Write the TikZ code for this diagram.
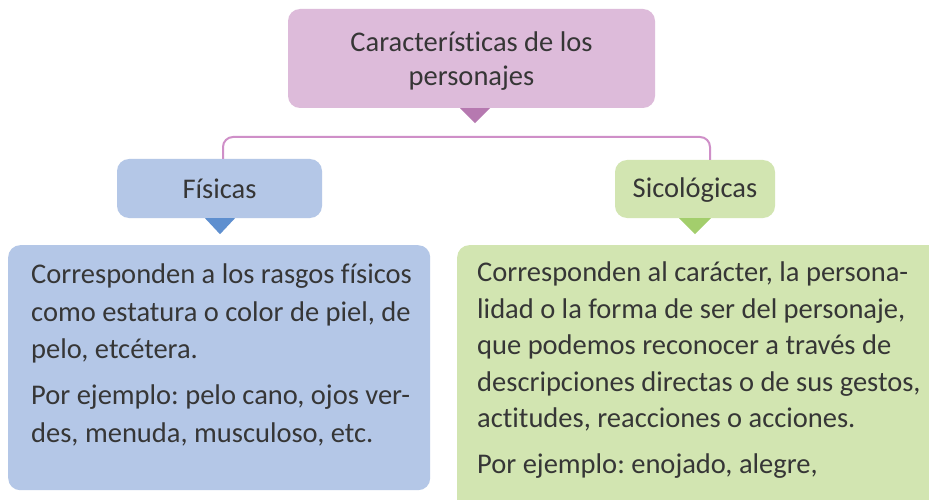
\documentclass[tikz,border=0pt]{standalone}
\usepackage{fontspec}
\setmainfont[Ligatures=NoCommon]{Carlito}
\frenchspacing
\definecolor{txt}{HTML}{363636}
\definecolor{pinkbox}{HTML}{DDBBDA}
\definecolor{pinktri}{HTML}{B679B0}
\definecolor{pinkline}{HTML}{CF8FC8}
\definecolor{bluebox}{HTML}{B4C7E7}
\definecolor{bluetri}{HTML}{5E8FCF}
\definecolor{greenbox}{HTML}{D2E5B1}
\definecolor{greentri}{HTML}{A3CE6C}
\tikzset{
  box/.style={rounded corners=12pt, inner sep=0pt, draw=none},
  conn/.style={draw=pinkline, line width=2pt, rounded corners=10pt},
  maintext/.style={font=\fontsize{28.5}{34}\selectfont, text=txt, align=center, inner sep=0pt},
  bodytext/.style={font=\fontsize{28.5}{36.5}\selectfont, text=txt, align=left, inner sep=0pt, anchor=north west},
}
\begin{document}
\begin{tikzpicture}[x=1pt,y=-1pt]
\useasboundingbox (0,0) rectangle (929,500);
\clip (0,0) rectangle (929,500);
\fill[white] (0,0) rectangle (929,500);
% boxes
\node[box, fill=pinkbox, minimum width=367pt, minimum height=99pt] (top) at (471.5,58.5) {};
\node[box, fill=bluebox, minimum width=205pt, minimum height=59pt] (fis) at (219.5,188.5) {};
\node[box, fill=greenbox, minimum width=160pt, minimum height=58pt] (sic) at (695,189) {};
\node[box, fill=bluebox, minimum width=422pt, minimum height=245pt, anchor=north west] (lbox) at (8,245) {};
\node[box, fill=greenbox, minimum width=490pt, minimum height=275pt, anchor=north west] (rbox) at (457,245) {};
% triangles
\fill[pinktri] ([xshift=3.5pt]top.south) +(-15,0) -- +(15,0) -- +(0,15) -- cycle;
\fill[bluetri] ([xshift=0.5pt]fis.south) +(-15,0) -- +(15,0) -- +(0,16) -- cycle;
\fill[greentri] (sic.south) +(-16,0) -- +(16,0) -- +(0,16) -- cycle;
% connector
\coordinate (mid) at (470,137);
\draw[conn] ([xshift=3.5pt]fis.north) |- (mid) -| ([xshift=15pt]sic.north);
% texts
\node[maintext] (toptext) at ([yshift=-3pt]top.center) {Características de los\\personajes};
\node[maintext] (fistext) at (fis.center) {Físicas};
\node[maintext] (sictext) at ([yshift=-1.5pt]sic.center) {Sicológicas};
\node[bodytext, font=\fontsize{28.5}{37.5}\selectfont] (ltext) at (31,264) {Corresponden a los rasgos físicos\\como estatura o color de piel, de\\pelo, etcétera.\\[8.5pt]Por ejemplo: pelo cano, ojos ver-\\des, menuda, musculoso, etc.};
\node[bodytext] (rtext) at (477,262) {Corresponden al carácter, la persona-\\lidad o la forma de ser del personaje,\\que podemos reconocer a través de\\descripciones directas o de sus gestos,\\actitudes, reacciones o acciones.\\[9.5pt]Por ejemplo: enojado, alegre,};
\end{tikzpicture}
\end{document}
